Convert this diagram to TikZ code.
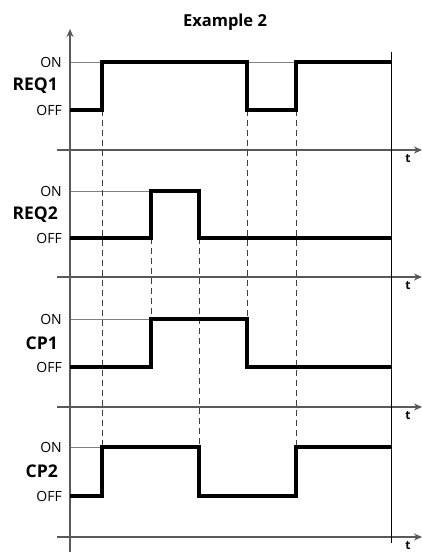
\documentclass[tikz,border=0pt]{standalone}
\usepackage{fontspec}
\setmainfont{Open Sans}
\usetikzlibrary{arrows.meta}
\tikzset{
  td axis/.style={-{Stealth[length=8pt,width=7pt]},line width=1.1pt,black!65},
  td frame/.style={line width=0.8pt,black},
  td level/.style={line width=0.7pt,black!50},
  td signal/.style={line width=3.2pt,black,line join=miter},
  td guide/.style={line width=0.9pt,black!75,dash pattern=on 6pt off 4pt},
  td state/.style={font=\fontsize{14}{15}\selectfont,anchor=east,inner sep=0pt},
  td name/.style={font=\fontsize{17.5}{19}\selectfont\bfseries,anchor=east,inner sep=0pt},
  td time/.style={font=\fontsize{12}{12}\selectfont\bfseries,inner sep=0pt},
  td title/.style={font=\fontsize{16.5}{18}\selectfont\bfseries,inner sep=0pt}
}
% one channel: name, label, ON level, OFF level, time axis
\newcommand{\tdchannel}[5]{%
  \node[td state] (#1-on) at (62,#3) {ON};
  \node[td state] (#1-off) at (62,#4) {OFF};
  \node[td name] (#1-name) at (58,{(#3+#4)/2}) {#2};
  \draw[td axis] (57,#5) -- (422,#5);
  \node[td time] (#1-t) at (408,#5+8.5) {t};
}

\begin{document}
\begin{tikzpicture}[x=1pt,y=-1pt]
  \useasboundingbox (0,0) rectangle (422,552);
  \node[td title] (title) at (225,22) {Example 2};

  % channels
  \tdchannel{req1}{REQ1}{62}{110}{150}
  \tdchannel{req2}{REQ2}{191}{238}{277}
  \tdchannel{cp1}{CP1}{319}{367}{407}
  \tdchannel{cp2}{CP2}{447}{496}{537}

  % ON levels
  \draw[td level] (70,62) -- (296,62);
  \draw[td level] (70,191) -- (151,191);
  \draw[td level] (70,319) -- (151,319);
  \draw[td level] (70,447) -- (102,447);

  % time marks
  \draw[td guide] (102,110) -- (102,447);
  \draw[td guide] (247,110) -- (247,319);
  \draw[td guide] (296,110) -- (296,447);
  \draw[td guide] (151,238) -- (151,367);
  \draw[td guide] (199,238) -- (199,447);

  \draw[td axis] (70,552) -- (70,29);
  \draw[td frame] (391,52) -- (391,543);

  % waveforms
  \draw[td signal] (70,110) -- (102,110) -- (102,62) -- (247,62)
    -- (247,110) -- (296,110) -- (296,62) -- (391,62);
  \draw[td signal] (70,238) -- (151,238) -- (151,191) -- (199,191)
    -- (199,238) -- (391,238);
  \draw[td signal] (70,367) -- (151,367) -- (151,319) -- (247,319)
    -- (247,367) -- (391,367);
  \draw[td signal] (70,496) -- (102,496) -- (102,447) -- (199,447)
    -- (199,496) -- (296,496) -- (296,447) -- (391,447);
\end{tikzpicture}
\end{document}
